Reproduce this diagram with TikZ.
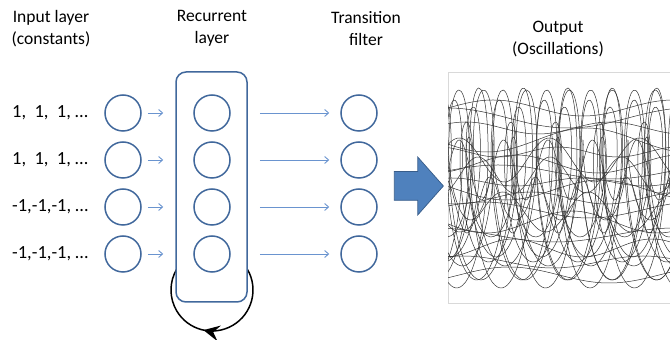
\documentclass[tikz,border=0pt]{standalone}
\usepackage{fontspec}
\setmainfont{Carlito}
\usepackage{xcolor}
\usepackage{tikz}
\usetikzlibrary{arrows.meta,positioning,backgrounds,shapes.arrows,decorations.markings}
\definecolor{nodeblue}{HTML}{41689C}
\definecolor{linkblue}{HTML}{6A94CF}
\definecolor{bigblue}{HTML}{4F81BD}
\definecolor{bigedge}{HTML}{385D8A}
\definecolor{framegray}{HTML}{D9D9D9}

\begin{document}
\begin{tikzpicture}[x=1pt,y=1pt,
  unit/.style={draw=nodeblue,line width=1.5pt,circle,minimum size=36pt,inner sep=0pt},
  layerbox/.style={draw=nodeblue,line width=1.5pt,rounded corners=10pt,fill=white,minimum width=71pt,minimum height=230pt},
  ref/.style={-{Straight Barb[length=4pt,width=7pt]},draw=linkblue,line width=0.9pt},
  head/.style={align=center,font=\fontsize{17.5}{22.5}\selectfont},
  val/.style={anchor=west,font=\fontsize{18.5}{22}\selectfont,inner sep=0pt},
  feedback/.style={line width=1.5pt,postaction={decorate},
    decoration={markings,mark=at position 0.55 with {\arrow{Stealth[length=16pt,width=16pt,inset=6pt]}}}},
  bigarrow/.style={single arrow,draw=bigedge,fill=bigblue,line width=0.75pt,inner sep=14pt,
    minimum height=49pt,single arrow head extend=14.5pt,single arrow tip angle=97},
  osc/.style={line width=0.5pt,black!80}]
\useasboundingbox (0,0) rectangle (670,340);
% column headings
\node[head] (hin)  at (51,311.5)  {Input layer\\(constants)};
\node[head] (hrec) at (212,311.5) {Recurrent\\layer};
\node[head] (hout) at (366,311.5) {Transition\\filter};
\node[head] (hosc) at (558,301)   {Output\\(Oscillations)};
% input values
\node[val] (v1) at (12,227) {1,\ \ 1,\ \ 1, …};
\node[val] (v2) at (12,180) {1,\ \ 1,\ \ 1, …};
\node[val] (v3) at (12,133) {-1,-1,-1, …};
\node[val] (v4) at (12,86)  {-1,-1,-1, …};
% recurrent layer
\node[layerbox] (rec) at (211.5,153) {};
\coordinate (loopc) at (212,50);
\begin{scope}[on background layer]
\draw[feedback] (loopc) ++(30:41) arc[start angle=30,end angle=-210,radius=41];
\end{scope}
\node[unit] (i1) at (123,227) {};
\node[unit] (i2) at (123,180) {};
\node[unit] (i3) at (123,133) {};
\node[unit] (i4) at (123,86)  {};
\node[unit] (r1) at (212,227) {};
\node[unit] (r2) at (212,180) {};
\node[unit] (r3) at (212,133) {};
\node[unit] (r4) at (212,86)  {};
\node[unit] (t1) at (359,227) {};
\node[unit] (t2) at (359,180) {};
\node[unit] (t3) at (359,133) {};
\node[unit] (t4) at (359,86)  {};
\draw[ref,shorten <=6pt,shorten >=12pt] (i1) -- (i1 -| rec.west);
\draw[ref,shorten <=6pt,shorten >=12pt] (i2) -- (i2 -| rec.west);
\draw[ref,shorten <=6pt,shorten >=12pt] (i3) -- (i3 -| rec.west);
\draw[ref,shorten <=6pt,shorten >=12pt] (i4) -- (i4 -| rec.west);
\draw[ref,shorten <=12pt,shorten >=11pt] (r1 -| rec.east) -- (t1);
\draw[ref,shorten <=12pt,shorten >=11pt] (r2 -| rec.east) -- (t2);
\draw[ref,shorten <=12pt,shorten >=11pt] (r3 -| rec.east) -- (t3);
\draw[ref,shorten <=12pt,shorten >=11pt] (r4 -| rec.east) -- (t4);
% output
\node[bigarrow] (flow) at (412.5,154) {};
\node[draw=framegray,line width=0.8pt,minimum width=240pt,minimum height=231pt,
  anchor=north west,inner sep=0pt] (plot) at (448,268) {};
\begin{scope}
\clip (plot.south west) rectangle (plot.north east);
\foreach \c/\a/\b/\w/\p in {
  155/95/20/8.2/0, 150/90/18/8.0/40, 152/100/19/8.1/200,
  158/75/17/7.9/250, 162/88/20/8.4/150, 148/70/16/8.1/300,
  153/50/12/8.1/280, 160/40/8/8.0/90,
  170/30/0/8.1/0, 135/28/0/7.9/120,
  180/22/0/4.0/45, 128/20/0/4.2/220, 165/18/0/5.0/300,
  232/8/0/2.0/0, 222/10/0/1.5/90, 212/6/0/2.5/45, 200/12/0/1.8/200,
  188/5/0/3.0/120, 176/9/0/2.2/300, 168/7/0/1.6/10, 158/4/0/2.8/80,
  150/10/0/1.9/160, 142/6/0/2.4/250, 130/8/0/1.7/30, 118/11/0/2.1/190,
  105/7/0/1.5/110, 92/9/0/2.6/280, 78/6/0/2.0/60, 65/8/0/1.8/340}
  \draw[osc] plot[domain=-30:260,samples=220,smooth]
    ({448+\x+\b*cos(\w*\x+\p)},{\c+\a*sin(\w*\x+\p)});
\end{scope}
\end{tikzpicture}
\end{document}
